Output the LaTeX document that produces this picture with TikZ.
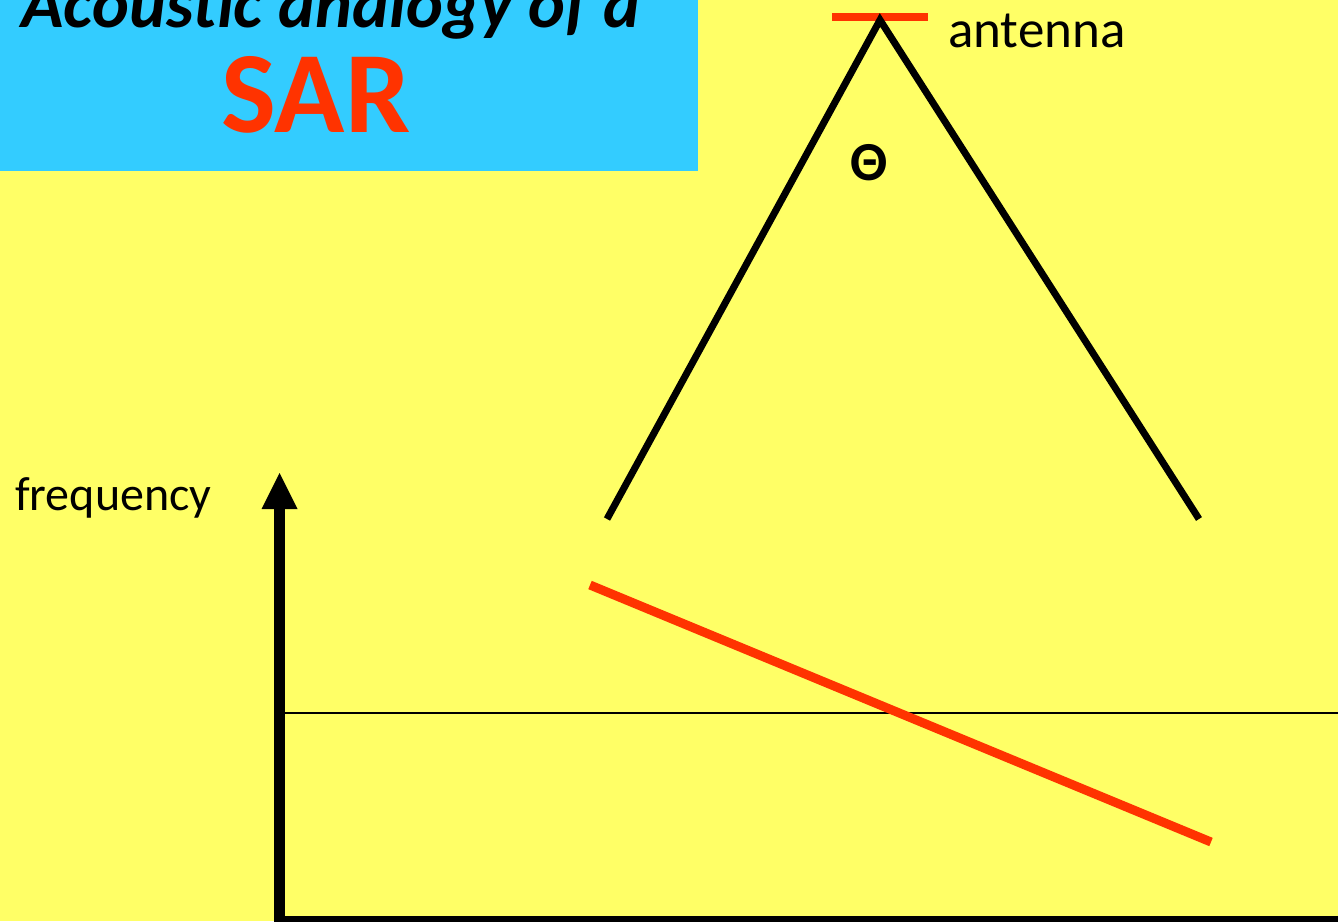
\documentclass[tikz,border=0pt]{standalone}
\usepackage{fontspec}
\setmainfont{Carlito}
\definecolor{bgyellow}{HTML}{FFFF66}
\definecolor{titleblue}{HTML}{33CCFF}
\definecolor{sarred}{HTML}{FF3300}
\tikzset{
  beam/.style={line width=7pt, black},
  redbar/.style={line width=9pt, sarred},
  axisline/.style={line width=11pt, black},
  lbl/.style={inner sep=0pt, font=\fontsize{53}{60}\selectfont},
}
\begin{document}
\begin{tikzpicture}[x=1pt,y=-1pt]
\useasboundingbox (0,0) rectangle (1338,921);
\clip (0,0) rectangle (1338,921);
\fill[bgyellow] (0,0) rectangle (1338,921);
\fill[titleblue] (0,0) rectangle (698,171);
% title (cut off at the top edge, as in the reference)
\node[inner sep=0pt, anchor=base east, font=\fontsize{70}{80}\selectfont\bfseries\itshape] (title) at (641,27) {Acoustic analogy of a};
\node[inner sep=0pt, anchor=base, text=sarred, font=\fontsize{116}{130}\selectfont\bfseries] (sar) at (316,132) {SAR};
% antenna
\coordinate (antL) at (832,17);
\coordinate (antR) at (928,17);
\draw[line width=8pt, sarred] (antL) -- (antR);
\node[lbl, anchor=base west] (antlabel) at (948,47) {antenna};
% beam
\coordinate (apex) at (880,20);
\coordinate (beamL) at (607,519);
\coordinate (beamR) at (1199,519);
\draw[beam, line join=miter] (beamL) -- (apex) -- (beamR);
\node[inner sep=0pt, font=\fontsize{55}{60}\selectfont\bfseries] (theta) at (869,163) {Θ};
% frequency axis
\node[inner sep=0pt, anchor=base west, font=\fontsize{48}{54}\selectfont] (freq) at (15,510) {frequency};
\coordinate (origin) at (279.5,921.5);
\coordinate (ytop) at (279.5,505);
\coordinate (xend) at (1338,921.5);
\coordinate (tip) at (279.5,473);
\draw[axisline] (origin) -- (ytop);
\draw[axisline] ([xshift=-5.5pt]origin) -- (xend);
\fill[black] (tip) -- ([xshift=-18pt,yshift=-36pt]tip) -- ([xshift=18pt,yshift=-36pt]tip) -- cycle;
% thin reference line
\coordinate (refL) at (285,713);
\coordinate (refR) at (1338,713);
\draw[line width=1.8pt, black] (refL) -- (refR);
% red frequency line
\coordinate (redA) at (590,585);
\coordinate (redB) at (1211,842);
\draw[redbar] (redA) -- (redB);
\end{tikzpicture}
\end{document}
